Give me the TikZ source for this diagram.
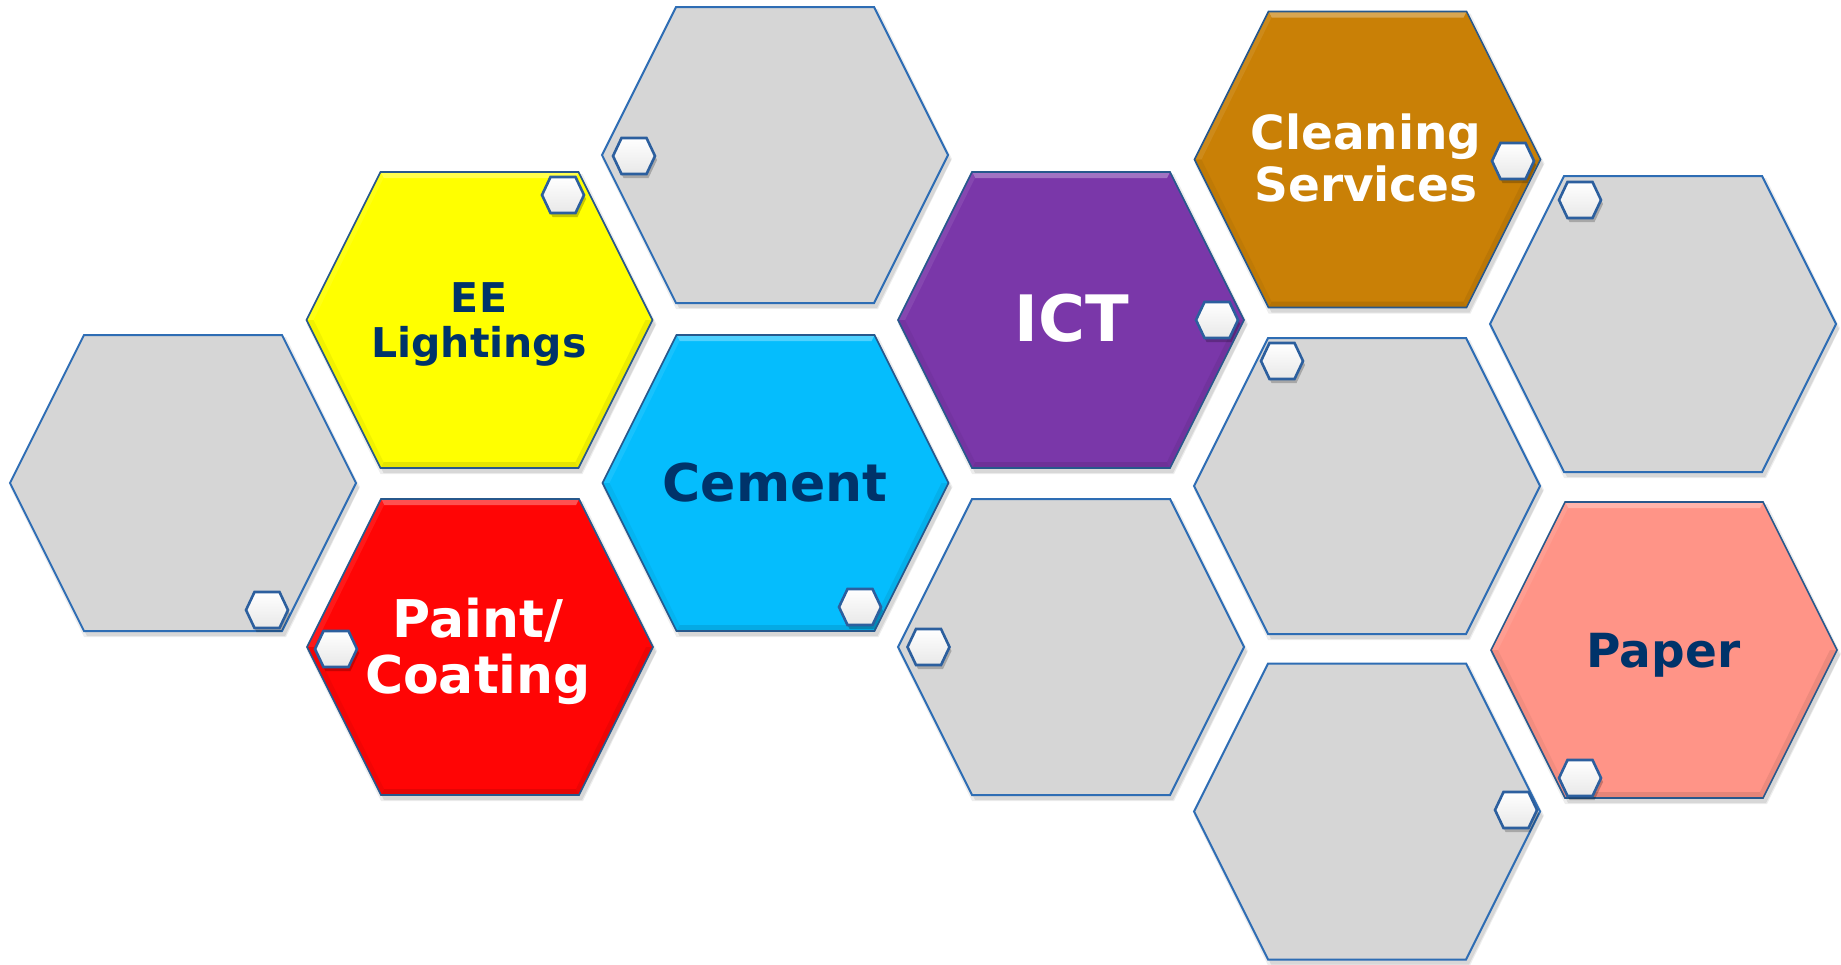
\documentclass[tikz,border=0pt]{standalone}
\usepackage{fontspec}
\setmainfont{DejaVu Sans}
\usetikzlibrary{calc}
\definecolor{grayfill}{HTML}{D6D6D6}
\definecolor{hexblue}{HTML}{2E6DB4}
\definecolor{colborder}{HTML}{27588C}
\definecolor{smallblue}{HTML}{2C5F9E}
\definecolor{cyellow}{HTML}{FFFF00}
\definecolor{cred}{HTML}{FF0505}
\definecolor{ccyan}{HTML}{05BDFD}
\definecolor{cpurple}{HTML}{7A37A9}
\definecolor{corange}{HTML}{C98006}
\definecolor{csalmon}{HTML}{FF9487}
\definecolor{navy}{HTML}{00336A}
\newcommand\hexpath[5]{({#1-(#3)},{#2}) -- ({#1-(#4)},{#2-(#5)}) -- ({#1+(#4)},{#2-(#5)}) -- ({#1+(#3)},{#2}) -- ({#1+(#4)},{#2+(#5)}) -- ({#1-(#4)},{#2+(#5)}) -- cycle}
\newcommand\hexshadow[2]{%
  \fill[black,opacity=.07] \hexpath{#1+2}{#2+4}{175}{101}{150};
  \fill[black,opacity=.09] \hexpath{#1+3}{#2+5}{173}{99}{148};}
\newcommand\grayhex[3]{%
  \hexshadow{#2}{#3}
  \path[fill=grayfill,draw=hexblue,line width=2pt,line join=miter] \hexpath{#2}{#3}{173}{99}{148};
  \coordinate (#1) at (#2,#3);}
\newcommand\colhex[4]{%
  \hexshadow{#2}{#3}
  \fill[#4] \hexpath{#2}{#3}{173}{99}{148};
  \fill[#4!70!white] ({#2-99},{#3-148}) -- ({#2+99},{#3-148}) -- ({#2+96},{#3-142}) -- ({#2-96},{#3-142}) -- cycle;
  \fill[#4!92!white] ({#2-173},{#3}) -- ({#2-99},{#3-148}) -- ({#2-96},{#3-142}) -- ({#2-166},{#3}) -- cycle;
  \fill[#4!90!black] ({#2-99},{#3+148}) -- ({#2+99},{#3+148}) -- ({#2+96},{#3+142}) -- ({#2-96},{#3+142}) -- cycle;
  \fill[#4!93!black] ({#2+173},{#3}) -- ({#2+99},{#3+148}) -- ({#2+96},{#3+142}) -- ({#2+166},{#3}) -- cycle;
  \fill[#4!95!black] ({#2-173},{#3}) -- ({#2-99},{#3+148}) -- ({#2-96},{#3+142}) -- ({#2-166},{#3}) -- cycle;
  \draw[colborder,line width=1.6pt,line join=miter] \hexpath{#2}{#3}{173}{99}{148};
  \coordinate (#1) at (#2,#3);}
\newcommand\smallhex[3]{%
  \fill[black,opacity=.22] \hexpath{#2+2}{#3+4}{21}{12.5}{18};
  \path[top color=white,middle color=white,bottom color=black!9,draw=smallblue,line width=2.6pt,line join=miter] \hexpath{#2}{#3}{21}{12.5}{18};
  \coordinate (#1) at (#2,#3);}
\tikzset{lbl/.style={inner sep=0pt,align=center,font=\bfseries}}
\begin{document}
\begin{tikzpicture}[x=1pt,y=-1pt]
\useasboundingbox (0,0) rectangle (1841,964);
\fill[white] (0,0) rectangle (1841,964);
% gray hexagons
\grayhex{g1}{183}{483}
\grayhex{g2}{775}{155}
\grayhex{g3}{1071}{647}
\grayhex{g4}{1367}{486}
\grayhex{g5}{1367}{811.5}
\grayhex{g6}{1663}{324}
% coloured hexagons
\colhex{hee}{479.5}{320}{cyellow}
\colhex{hpaint}{480}{647}{cred}
\colhex{hcem}{775.5}{483}{ccyan}
\colhex{hict}{1071}{320}{cpurple}
\colhex{hclean}{1367.5}{159.5}{corange}
\colhex{hpaper}{1664}{650}{csalmon}
% small hexagons
\smallhex{s1}{267}{610}
\smallhex{s2}{563}{195}
\smallhex{s3}{336}{649}
\smallhex{s4}{634}{156}
\smallhex{s5}{860}{607}
\smallhex{s6}{1217}{320}
\smallhex{s7}{928.5}{647}
\smallhex{s8}{1513}{161}
\smallhex{s9}{1282}{361}
\smallhex{s10}{1516}{810}
\smallhex{s11}{1580}{200}
\smallhex{s12}{1580}{778}
% labels
\node[lbl,text=navy,font=\bfseries\fontsize{41}{45}\selectfont] (tee) at (479,324) {EE\\Lightings};
\node[lbl,text=white,font=\bfseries\fontsize{52}{56}\selectfont] (tpaint) at (478,651) {Paint/\\Coating};
\node[lbl,text=navy,font=\bfseries\fontsize{52}{56}\selectfont] (tcem) at (775,483) {Cement};
\node[lbl,text=white,font=\bfseries\fontsize{64}{70}\selectfont] (tict) at (1072,318.5) {ICT};
\node[lbl,text=white,font=\bfseries\fontsize{47}{52}\selectfont] (tclean) at (1366,158) {Cleaning\\Services};
\node[lbl,text=navy,font=\bfseries\fontsize{47}{52}\selectfont] (tpaper) at (1663.5,655.5) {Paper};
\end{tikzpicture}
\end{document}
